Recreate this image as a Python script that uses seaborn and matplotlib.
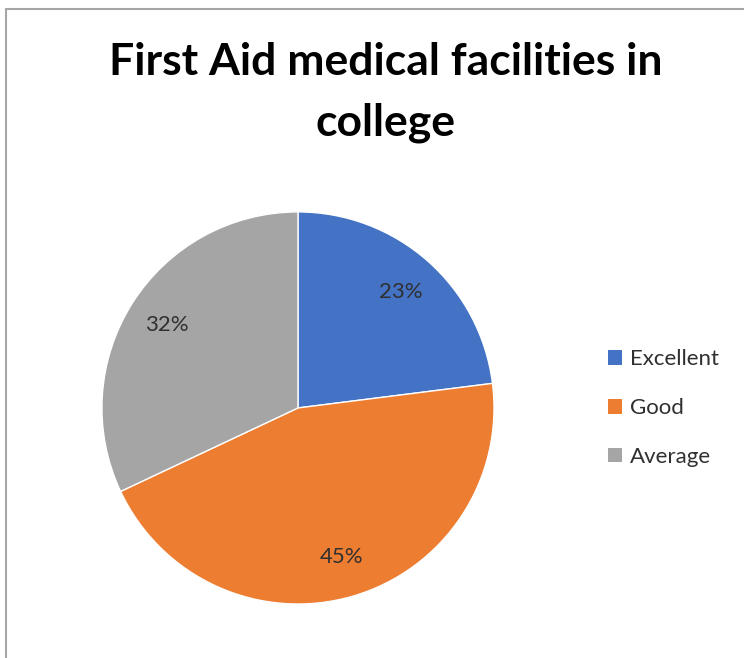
import matplotlib
matplotlib.use("Agg")
import matplotlib.pyplot as plt
import seaborn as sns
from matplotlib.lines import Line2D
from matplotlib.patches import Patch

sns.set_theme(style="white")
plt.rcParams['font.family'] = ['Lato', 'DejaVu Sans']

# data
categories = ["Excellent", "Good", "Average"]
shares = [23, 45, 32]
colors = sns.color_palette(["#4472C4", "#ED7D31", "#A5A5A5"])

fig = plt.figure(figsize=(7.44, 6.58), dpi=100)
ax = fig.add_axes([0.137, 0.082, 0.527, 0.596])

wedges, texts, autotexts = ax.pie(
    shares, colors=colors, startangle=90, counterclock=False,
    autopct="%d%%", pctdistance=0.79,
    wedgeprops=dict(edgecolor="white", linewidth=1),
    textprops=dict(fontsize=16, color="#303030"))
ax.set_xlim(-1, 1)
ax.set_ylim(-1, 1)
ax.set_aspect("equal")

fig.text(0.518, 0.86, "First Aid medical facilities in\ncollege",
         ha="center", va="center", fontsize=32, fontweight="bold",
         linespacing=1.62, color="black")

handles = [Patch(facecolor=c, edgecolor="none") for c in colors]
fig.legend(handles, categories, loc="center left",
           bbox_to_anchor=(0.79, 0.38), frameon=False, fontsize=16,
           handlelength=0.65, handleheight=0.65, handletextpad=0.35,
           labelspacing=1.3, labelcolor="#303030")

# chart area border (top and left visible)
fig.add_artist(Line2D([0.0075, 1.0], [1 - 9 / 658, 1 - 9 / 658],
                      transform=fig.transFigure, color="#a6a6a6", lw=1.5))
fig.add_artist(Line2D([0.0075, 0.0075], [0.0, 1 - 9 / 658],
                      transform=fig.transFigure, color="#a6a6a6", lw=1.5))

fig.savefig("out.png", dpi=100, facecolor="white")
